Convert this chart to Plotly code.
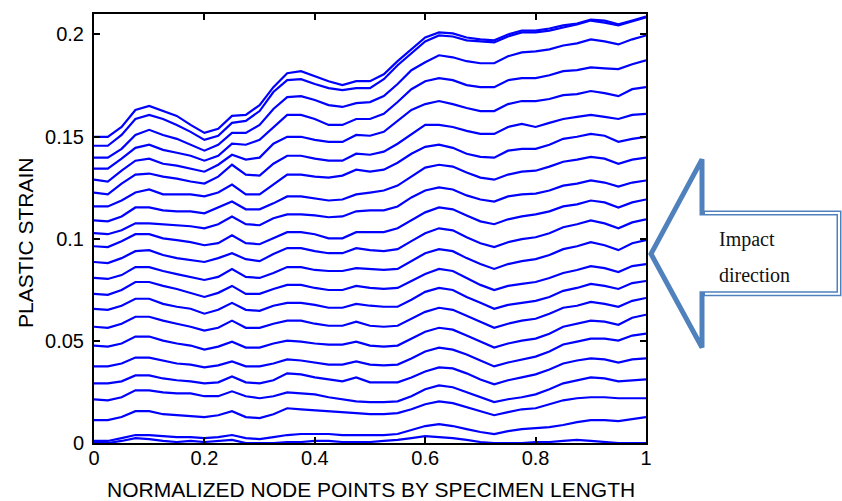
import plotly.graph_objects as go

# Normalized node positions along the specimen
node_x = [0.0, 0.025, 0.05, 0.075, 0.1, 0.125, 0.15, 0.175, 0.2, 0.225,
          0.25, 0.275, 0.3, 0.325, 0.35, 0.375, 0.4, 0.425, 0.45, 0.475,
          0.5, 0.525, 0.55, 0.575, 0.6, 0.625, 0.65, 0.675, 0.7, 0.725,
          0.75, 0.775, 0.8, 0.825, 0.85, 0.875, 0.9, 0.925, 0.95, 0.975, 1.0]

# Plastic strain profiles (bottom curve first)
strain_01 = [0, 0, 0.0010, 0.0024, 0.0019, 0.0010, 0.0005, 0.0010, 0.0005, 0.0010, 0.0015, 0, 0, 0, 0.0005, 0.0005, 0.0010, 0.0010, 0.0005, 0.0005, 0.0005, 0.0010, 0.0015, 0.0024, 0.0034, 0.0029, 0.0024, 0.0015, 0.0005, 0, 0, 0, 0.0005, 0.0005, 0.0010, 0.0015, 0.0010, 0.0005, 0, 0, 0]
strain_02 = [0.0010, 0.0010, 0.0024, 0.0039, 0.0039, 0.0034, 0.0029, 0.0029, 0.0024, 0.0029, 0.0039, 0.0024, 0.0019, 0.0029, 0.0039, 0.0044, 0.0044, 0.0044, 0.0039, 0.0039, 0.0039, 0.0039, 0.0044, 0.0063, 0.0083, 0.0092, 0.0083, 0.0068, 0.0054, 0.0044, 0.0058, 0.0068, 0.0073, 0.0078, 0.0088, 0.0102, 0.0112, 0.0112, 0.0107, 0.0117, 0.0127]
strain_03 = [0.0112, 0.0112, 0.0127, 0.0156, 0.0156, 0.0141, 0.0136, 0.0131, 0.0127, 0.0136, 0.0156, 0.0127, 0.0122, 0.0141, 0.0170, 0.0165, 0.0161, 0.0156, 0.0151, 0.0146, 0.0141, 0.0141, 0.0146, 0.0165, 0.0190, 0.0204, 0.0195, 0.0175, 0.0156, 0.0136, 0.0151, 0.0165, 0.0170, 0.0190, 0.0209, 0.0219, 0.0224, 0.0224, 0.0219, 0.0219, 0.0219]
strain_04 = [0.0214, 0.0209, 0.0224, 0.0258, 0.0258, 0.0248, 0.0243, 0.0243, 0.0229, 0.0229, 0.0253, 0.0229, 0.0219, 0.0229, 0.0248, 0.0243, 0.0238, 0.0224, 0.0214, 0.0204, 0.0200, 0.0200, 0.0204, 0.0229, 0.0263, 0.0282, 0.0273, 0.0248, 0.0224, 0.0200, 0.0214, 0.0224, 0.0238, 0.0263, 0.0292, 0.0307, 0.0321, 0.0316, 0.0302, 0.0307, 0.0311]
strain_05 = [0.0292, 0.0292, 0.0302, 0.0331, 0.0331, 0.0316, 0.0307, 0.0302, 0.0292, 0.0297, 0.0326, 0.0297, 0.0292, 0.0307, 0.0341, 0.0336, 0.0321, 0.0311, 0.0302, 0.0321, 0.0297, 0.0297, 0.0297, 0.0321, 0.0350, 0.0370, 0.0365, 0.0341, 0.0311, 0.0287, 0.0307, 0.0321, 0.0336, 0.0360, 0.0389, 0.0404, 0.0414, 0.0409, 0.0394, 0.0409, 0.0414]
strain_06 = [0.0375, 0.0375, 0.0389, 0.0418, 0.0418, 0.0404, 0.0389, 0.0384, 0.0370, 0.0380, 0.0399, 0.0375, 0.0375, 0.0389, 0.0409, 0.0404, 0.0394, 0.0384, 0.0384, 0.0399, 0.0384, 0.0380, 0.0384, 0.0414, 0.0448, 0.0467, 0.0457, 0.0433, 0.0404, 0.0375, 0.0394, 0.0409, 0.0423, 0.0448, 0.0482, 0.0496, 0.0511, 0.0511, 0.0501, 0.0526, 0.0535]
strain_07 = [0.0477, 0.0472, 0.0487, 0.0521, 0.0521, 0.0501, 0.0487, 0.0477, 0.0457, 0.0472, 0.0496, 0.0467, 0.0467, 0.0487, 0.0501, 0.0496, 0.0487, 0.0482, 0.0482, 0.0496, 0.0477, 0.0472, 0.0477, 0.0511, 0.0545, 0.0564, 0.0555, 0.0526, 0.0496, 0.0467, 0.0487, 0.0501, 0.0511, 0.0535, 0.0569, 0.0584, 0.0599, 0.0594, 0.0579, 0.0613, 0.0628]
strain_08 = [0.0569, 0.0564, 0.0584, 0.0618, 0.0618, 0.0599, 0.0584, 0.0569, 0.0550, 0.0564, 0.0599, 0.0564, 0.0564, 0.0584, 0.0599, 0.0599, 0.0584, 0.0574, 0.0574, 0.0594, 0.0574, 0.0569, 0.0574, 0.0608, 0.0642, 0.0662, 0.0652, 0.0623, 0.0594, 0.0564, 0.0584, 0.0599, 0.0608, 0.0633, 0.0662, 0.0672, 0.0691, 0.0681, 0.0667, 0.0696, 0.0710]
strain_09 = [0.0657, 0.0652, 0.0672, 0.0706, 0.0706, 0.0681, 0.0667, 0.0657, 0.0633, 0.0652, 0.0686, 0.0652, 0.0647, 0.0672, 0.0686, 0.0686, 0.0676, 0.0662, 0.0662, 0.0681, 0.0672, 0.0667, 0.0667, 0.0701, 0.0740, 0.0759, 0.0749, 0.0715, 0.0686, 0.0657, 0.0676, 0.0686, 0.0696, 0.0715, 0.0745, 0.0759, 0.0779, 0.0769, 0.0754, 0.0783, 0.0793]
strain_10 = [0.0730, 0.0725, 0.0749, 0.0788, 0.0788, 0.0769, 0.0754, 0.0735, 0.0715, 0.0735, 0.0769, 0.0730, 0.0730, 0.0754, 0.0774, 0.0774, 0.0759, 0.0749, 0.0749, 0.0769, 0.0759, 0.0754, 0.0759, 0.0793, 0.0827, 0.0852, 0.0842, 0.0808, 0.0774, 0.0749, 0.0769, 0.0779, 0.0788, 0.0808, 0.0832, 0.0847, 0.0866, 0.0856, 0.0837, 0.0866, 0.0876]
strain_11 = [0.0808, 0.0803, 0.0822, 0.0861, 0.0861, 0.0842, 0.0827, 0.0813, 0.0798, 0.0813, 0.0852, 0.0813, 0.0808, 0.0832, 0.0861, 0.0861, 0.0847, 0.0842, 0.0842, 0.0856, 0.0852, 0.0847, 0.0852, 0.0890, 0.0929, 0.0949, 0.0939, 0.0905, 0.0876, 0.0852, 0.0876, 0.0890, 0.0900, 0.0920, 0.0949, 0.0963, 0.0983, 0.0968, 0.0944, 0.0978, 0.0993]
strain_12 = [0.0886, 0.0881, 0.0905, 0.0939, 0.0944, 0.0920, 0.0905, 0.0895, 0.0886, 0.0905, 0.0929, 0.0900, 0.0890, 0.0925, 0.0954, 0.0954, 0.0939, 0.0929, 0.0929, 0.0954, 0.0944, 0.0939, 0.0949, 0.0988, 0.1027, 0.1051, 0.1041, 0.1007, 0.0978, 0.0959, 0.0983, 0.0998, 0.1007, 0.1027, 0.1056, 0.1071, 0.1090, 0.1075, 0.1051, 0.1080, 0.1095]
strain_13 = [0.0963, 0.0959, 0.0988, 0.1022, 0.1022, 0.1002, 0.0993, 0.0983, 0.0968, 0.0978, 0.1017, 0.0978, 0.0973, 0.1002, 0.1032, 0.1032, 0.1022, 0.1002, 0.1002, 0.1032, 0.1032, 0.1032, 0.1051, 0.1090, 0.1129, 0.1153, 0.1144, 0.1114, 0.1085, 0.1071, 0.1095, 0.1109, 0.1119, 0.1134, 0.1158, 0.1168, 0.1187, 0.1178, 0.1153, 0.1178, 0.1192]
strain_14 = [0.1027, 0.1022, 0.1041, 0.1075, 0.1075, 0.1071, 0.1066, 0.1061, 0.1051, 0.1071, 0.1109, 0.1071, 0.1066, 0.1100, 0.1119, 0.1119, 0.1114, 0.1105, 0.1109, 0.1134, 0.1139, 0.1139, 0.1158, 0.1202, 0.1236, 0.1251, 0.1241, 0.1212, 0.1192, 0.1182, 0.1207, 0.1217, 0.1221, 0.1236, 0.1260, 0.1270, 0.1285, 0.1275, 0.1255, 0.1275, 0.1285]
strain_15 = [0.1090, 0.1085, 0.1109, 0.1153, 0.1153, 0.1139, 0.1134, 0.1134, 0.1124, 0.1153, 0.1182, 0.1144, 0.1144, 0.1173, 0.1207, 0.1207, 0.1197, 0.1187, 0.1192, 0.1217, 0.1226, 0.1236, 0.1260, 0.1304, 0.1348, 0.1362, 0.1353, 0.1324, 0.1299, 0.1289, 0.1314, 0.1328, 0.1333, 0.1353, 0.1377, 0.1387, 0.1401, 0.1392, 0.1367, 0.1387, 0.1397]
strain_16 = [0.1158, 0.1158, 0.1187, 0.1226, 0.1241, 0.1217, 0.1217, 0.1217, 0.1207, 0.1226, 0.1265, 0.1217, 0.1217, 0.1265, 0.1314, 0.1314, 0.1304, 0.1299, 0.1309, 0.1338, 0.1328, 0.1338, 0.1372, 0.1416, 0.1450, 0.1460, 0.1445, 0.1416, 0.1401, 0.1397, 0.1431, 0.1440, 0.1440, 0.1460, 0.1489, 0.1499, 0.1513, 0.1504, 0.1474, 0.1489, 0.1499]
strain_17 = [0.1226, 0.1217, 0.1270, 0.1314, 0.1319, 0.1304, 0.1294, 0.1280, 0.1270, 0.1304, 0.1362, 0.1314, 0.1309, 0.1367, 0.1406, 0.1406, 0.1392, 0.1382, 0.1382, 0.1416, 0.1411, 0.1426, 0.1465, 0.1513, 0.1557, 0.1557, 0.1547, 0.1528, 0.1513, 0.1513, 0.1547, 0.1562, 0.1547, 0.1567, 0.1586, 0.1596, 0.1606, 0.1596, 0.1586, 0.1606, 0.1611]
strain_18 = [0.1289, 0.1280, 0.1333, 0.1382, 0.1392, 0.1367, 0.1358, 0.1343, 0.1328, 0.1362, 0.1411, 0.1387, 0.1397, 0.1465, 0.1499, 0.1499, 0.1484, 0.1474, 0.1474, 0.1508, 0.1504, 0.1523, 0.1577, 0.1630, 0.1659, 0.1674, 0.1659, 0.1640, 0.1625, 0.1625, 0.1659, 0.1674, 0.1674, 0.1684, 0.1703, 0.1708, 0.1723, 0.1713, 0.1698, 0.1732, 0.1742]
strain_19 = [0.1343, 0.1343, 0.1392, 0.1445, 0.1460, 0.1435, 0.1421, 0.1406, 0.1382, 0.1406, 0.1465, 0.1460, 0.1484, 0.1547, 0.1606, 0.1606, 0.1586, 0.1557, 0.1557, 0.1586, 0.1586, 0.1611, 0.1669, 0.1732, 0.1771, 0.1786, 0.1776, 0.1752, 0.1742, 0.1742, 0.1776, 0.1786, 0.1786, 0.1800, 0.1820, 0.1825, 0.1839, 0.1834, 0.1830, 0.1854, 0.1873]
strain_20 = [0.1397, 0.1397, 0.1440, 0.1508, 0.1533, 0.1508, 0.1489, 0.1460, 0.1431, 0.1460, 0.1518, 0.1518, 0.1557, 0.1635, 0.1693, 0.1698, 0.1679, 0.1654, 0.1645, 0.1664, 0.1669, 0.1698, 0.1757, 0.1825, 0.1864, 0.1898, 0.1888, 0.1869, 0.1859, 0.1859, 0.1893, 0.1912, 0.1917, 0.1927, 0.1946, 0.1956, 0.1976, 0.1966, 0.1951, 0.1976, 0.1995]
strain_21 = [0.1455, 0.1455, 0.1508, 0.1586, 0.1606, 0.1586, 0.1557, 0.1523, 0.1484, 0.1504, 0.1567, 0.1577, 0.1625, 0.1718, 0.1776, 0.1781, 0.1757, 0.1737, 0.1727, 0.1737, 0.1737, 0.1781, 0.1849, 0.1907, 0.1966, 0.1995, 0.1990, 0.1971, 0.1966, 0.1961, 0.1990, 0.2010, 0.2010, 0.2019, 0.2034, 0.2049, 0.2068, 0.2058, 0.2044, 0.2063, 0.2083]
strain_22 = [0.1499, 0.1499, 0.1547, 0.1630, 0.1650, 0.1625, 0.1601, 0.1557, 0.1518, 0.1538, 0.1601, 0.1606, 0.1654, 0.1742, 0.1810, 0.1820, 0.1796, 0.1771, 0.1752, 0.1771, 0.1771, 0.1805, 0.1869, 0.1927, 0.1985, 0.2010, 0.2005, 0.1985, 0.1976, 0.1971, 0.2000, 0.2019, 0.2019, 0.2029, 0.2044, 0.2053, 0.2073, 0.2068, 0.2049, 0.2068, 0.2088]

curves = [strain_01, strain_02, strain_03, strain_04, strain_05, strain_06,
          strain_07, strain_08, strain_09, strain_10, strain_11, strain_12,
          strain_13, strain_14, strain_15, strain_16, strain_17, strain_18,
          strain_19, strain_20, strain_21, strain_22]

x_tickvals = [0, 0.2, 0.4, 0.6, 0.8, 1]
x_ticktext = ["0", "0.2", "0.4", "0.6", "0.8", "1"]
y_tickvals = [0, 0.05, 0.1, 0.15, 0.2]
y_ticktext = ["0", "0.05", "0.1", "0.15", "0.2"]

W, H = 842, 501
L, R, T, B = 94, 646, 12, 443


def px(xp):
    return (xp - L) / (R - L)


def py(yp):
    return (B - yp) / (B - T)


fig = go.Figure()
for c in curves:
    fig.add_trace(go.Scatter(x=node_x, y=c, mode="lines",
                             line=dict(color="#0000ff", width=2.2),
                             showlegend=False, hoverinfo="skip"))

axis_common = dict(showgrid=False, zeroline=False, showline=True,
                   linecolor="black", linewidth=2, mirror="allticks",
                   ticks="inside", ticklen=6, tickwidth=1.5, tickcolor="black",
                   tickfont=dict(family="Liberation Sans, Arial, sans-serif",
                                 size=20, color="black"))

fig.update_layout(
    width=W, height=H,
    margin=dict(l=L, r=W - R, t=T, b=H - B, pad=0),
    paper_bgcolor="white", plot_bgcolor="white",
    xaxis=dict(range=[0, 1], tickvals=x_tickvals, ticktext=x_ticktext,
               ticklabelstandoff=-4, **axis_common),
    yaxis=dict(range=[0, 0.21], tickvals=y_tickvals, ticktext=y_ticktext,
               ticklabelstandoff=4, **axis_common),
)

# Axis titles
fig.add_annotation(text="PLASTIC STRAIN", xref="paper", yref="paper",
                   x=px(26), y=py(242), textangle=-90, showarrow=False,
                   xanchor="center", yanchor="middle",
                   font=dict(family="Liberation Sans, Arial, sans-serif",
                             size=21, color="black"))
fig.add_annotation(text="NORMALIZED NODE POINTS BY SPECIMEN LENGTH",
                   xref="paper", yref="paper", x=px(371), y=py(490),
                   showarrow=False, xanchor="center", yanchor="middle",
                   font=dict(family="Liberation Sans, Arial, sans-serif",
                             size=21, color="black"))

# Impact arrow
blue = "rgb(79,129,189)"
tip = (651, 253)
pts = [tip, (702, 158), (702, 212), (839, 212), (839, 293), (702, 293), (702, 347)]
path = "M " + " L ".join(f"{px(a):.5f},{py(b):.5f}" for a, b in pts) + " Z"
fig.add_shape(type="path", path=path, xref="paper", yref="paper",
              line=dict(color=blue, width=5), fillcolor="white", layer="above")
shaft = [(705, 212), (839, 212), (839, 293), (705, 293)]
spath = "M " + " L ".join(f"{px(a):.5f},{py(b):.5f}" for a, b in shaft)
fig.add_shape(type="path", path=spath, xref="paper", yref="paper",
              line=dict(color="white", width=2), layer="above")

fig.add_annotation(text="Impact", xref="paper", yref="paper",
                   x=px(717), y=py(239), showarrow=False,
                   xanchor="left", yanchor="middle",
                   font=dict(family="Liberation Serif, Times New Roman, serif",
                             size=20, color="#111111"))
fig.add_annotation(text="direction", xref="paper", yref="paper",
                   x=px(717), y=py(274), showarrow=False,
                   xanchor="left", yanchor="middle",
                   font=dict(family="Liberation Serif, Times New Roman, serif",
                             size=20, color="#111111"))

fig.write_html("out.html")
